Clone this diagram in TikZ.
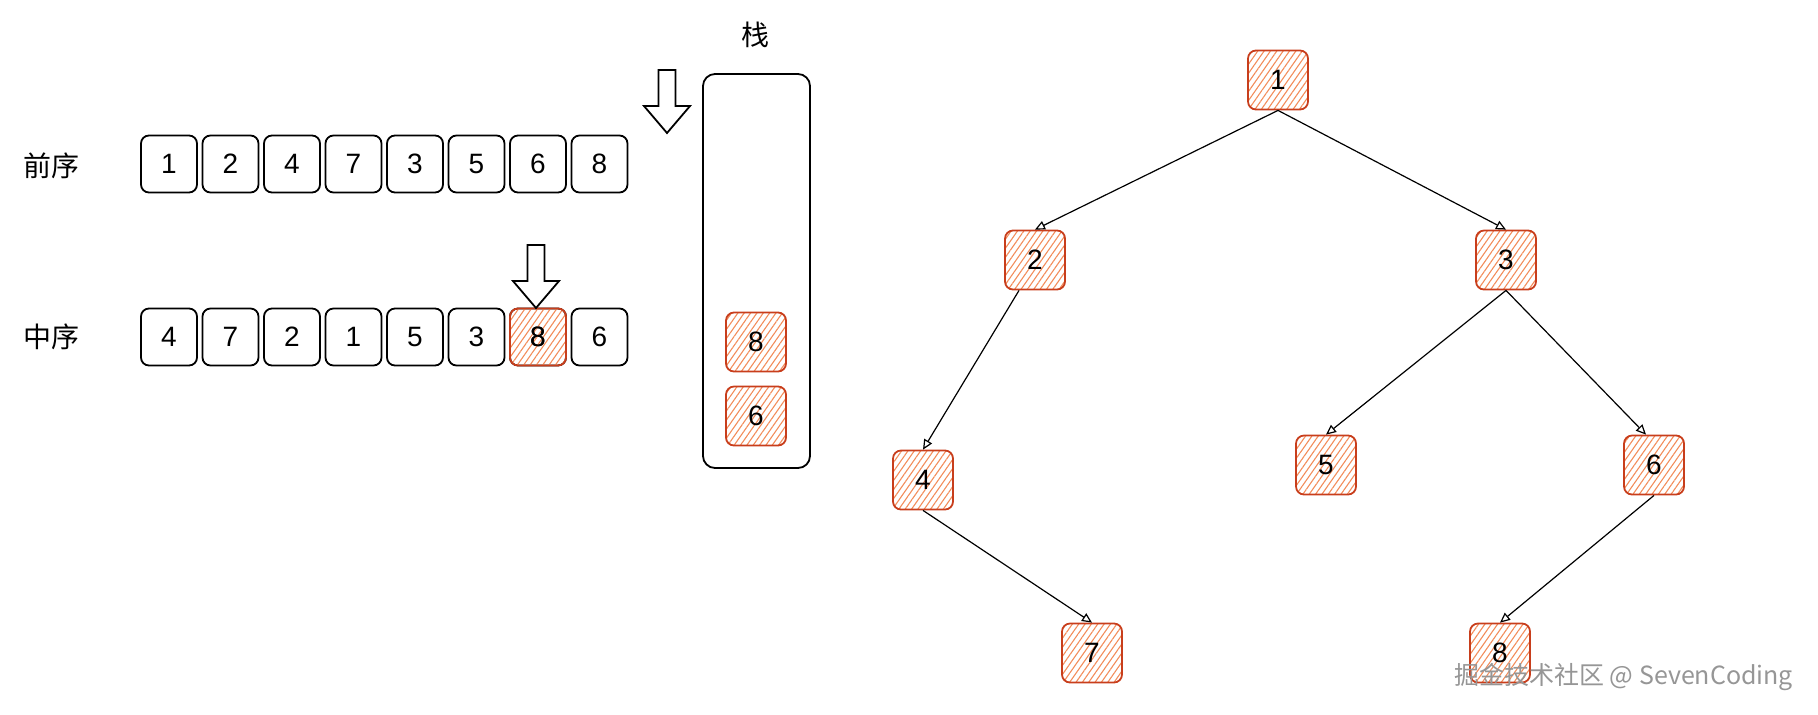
\documentclass[tikz,border=0pt]{standalone}
\usepackage{fontspec}
\setmainfont{Liberation Sans}
\newfontfamily\cjkfont{Noto Sans CJK SC}
\usetikzlibrary{
  arrows.meta,
  positioning,
  patterns.meta
}
\definecolor{HatchOrange}{RGB}{242,140,90}
\definecolor{EdgeRed}{RGB}{200,62,28}
\definecolor{MarkGray}{RGB}{150,150,150}
\tikzset{
  cell/.style={
    draw=black,
    line width=0.9pt,
    rounded corners=4pt,
    minimum width=28pt,
    minimum height=28.5pt,
    inner sep=0pt,
    font=\fontsize{14}{16}\selectfont
  },
  hotcell/.style={cell,draw=EdgeRed,pattern={Lines[angle=55,distance=2.6pt,line width=0.55pt]},pattern color=HatchOrange},
  treenode/.style={hotcell,minimum width=30pt,minimum height=29.5pt},
  edge/.style={-{Triangle[open,length=5pt,width=4.5pt]},line width=0.6pt,draw=black},
  hollowarrow/.style={draw=black,line width=0.9pt,fill=white,line join=miter},
  stackbox/.style={draw=black,line width=0.9pt,rounded corners=6pt,minimum width=53.5pt,minimum height=197pt},
  cjklabel/.style={font=\cjkfont\fontsize{14}{16}\selectfont}
}
\begin{document}
\begin{tikzpicture}[x=0.5pt,y=-0.5pt]
  \useasboundingbox (0,0) rectangle (1818,714);

  % sequences
  \node[cjklabel] (prelabel) at (52,166) {前序};
  \node[cjklabel] (inlabel) at (52,337) {中序};
  \foreach \v [count=\i] in {1,2,4,7,3,5,6,8}
    \node[cell] (pre\i) at ({169+(\i-1)*61.5},164) {\v};
  \foreach \v [count=\i] in {4,7,2,1,5,3,8,6}
    \node[cell] (in\i) at ({169+(\i-1)*61.5},337) {\v};
  \node[hotcell] at (in7) {8};

  % pointers
  \foreach \ax/\ay in {667/70,536/245}
    \draw[hollowarrow] (\ax,\ay) ++(-8.5,0) -- ++(0,36) -- ++(-14.5,0) -- ++(23,27)
      -- ++(23,-27) -- ++(-14.5,0) -- ++(0,-36) -- cycle;

  % stack
  \node[cjklabel] (stacklabel) at (755,35) {栈};
  \node[stackbox] (stack) at (756.5,271) {};
  \node[treenode] (s8) at (756,342) {8};
  \node[treenode] (s6) at (756,416) {6};

  % tree
  \node[treenode] (n1) at (1278,80) {1};
  \node[treenode] (n2) at (1035,260) {2};
  \node[treenode] (n3) at (1506,260) {3};
  \node[treenode] (n4) at (923,480) {4};
  \node[treenode] (n5) at (1326,465) {5};
  \node[treenode] (n6) at (1654,465) {6};
  \node[treenode] (n7) at (1092,653) {7};
  \node[treenode] (n8) at (1500,653) {8};

  \draw[edge] (n1.south) -- (n2.north);
  \draw[edge] (n1.south) -- (n3.north);
  \draw[edge] ([xshift=-8pt]n2.south) -- (n4.north);
  \draw[edge] (n3.south) -- (n5.north);
  \draw[edge] (n3.south) -- ([xshift=-4pt]n6.north);
  \draw[edge] (n4.south) -- (n7.north);
  \draw[edge] (n6.south) -- (n8.north);

  \node[font=\cjkfont\fontsize{12.5}{14}\selectfont,text=MarkGray,anchor=east] (mark) at (1800,677) {掘金技术社区 @ SevenCoding};
\end{tikzpicture}
\end{document}
